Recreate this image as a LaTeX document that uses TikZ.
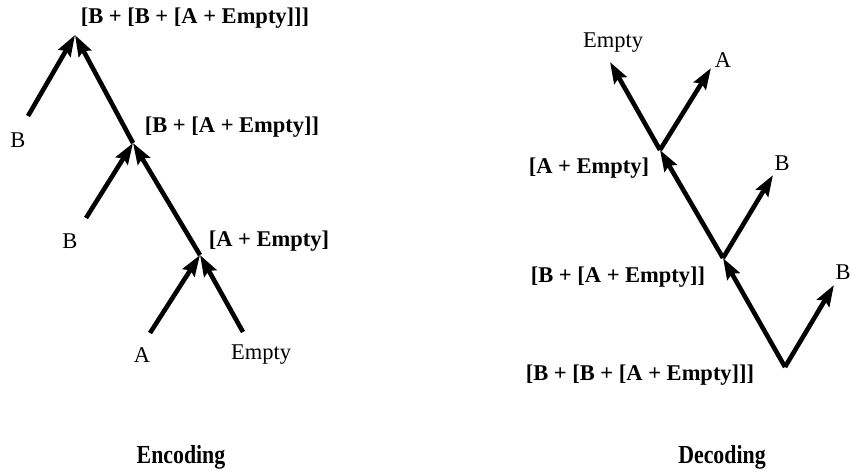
\documentclass[tikz,border=0pt]{standalone}
\usepackage{fontspec}
\setmainfont{Liberation Serif}
\usetikzlibrary{arrows.meta}
\begin{document}
\begin{tikzpicture}[x=1pt,y=-1pt,
  edge/.style={line width=4.6pt,-{Stealth[length=21pt,width=14pt,inset=3pt]}},
  blabel/.style={font=\fontsize{22.5}{24}\selectfont\bfseries,inner sep=0pt},
  rlabel/.style={font=\fontsize{22.5}{24}\selectfont,inner sep=0pt},
  title/.style={font=\fontsize{26}{28}\selectfont\bfseries,inner sep=0pt,xscale=0.84,anchor=base}]
\useasboundingbox (0,0) rectangle (852,471);
% ---------- Encoding ----------
\coordinate (e0) at (75,35);
\coordinate (e1) at (133,143);
\coordinate (e2) at (200,255);
\coordinate (eB1) at (28,116);
\coordinate (eB2) at (86,218);
\coordinate (eA) at (150,333);
\coordinate (eE) at (243,332);
\draw[edge] (eB1) -- (e0);
\draw[edge] (e1) -- (e0);
\draw[edge] (eB2) -- (e1);
\draw[edge] (e2) -- (e1);
\draw[edge] (eA) -- (e2);
\draw[edge] (eE) -- (e2);
\node[blabel] (et0) at (195,18) {[B + [B + [A + Empty]]]};
\node[blabel] (et1) at (232,127) {[B + [A + Empty]]};
\node[blabel] (et2) at (269,241) {[A + Empty]};
\node[rlabel] (eb1) at (18,140) {B};
\node[rlabel] (eb2) at (70,241) {B};
\node[rlabel] (ea) at (142,355) {A};
\node[rlabel] (ee) at (261,355) {Empty};
\node[title] (enc) at (181,463) {Encoding};
% ---------- Decoding ----------
\coordinate (d0) at (785,367);
\coordinate (d1) at (723,258);
\coordinate (d2) at (660,150);
\coordinate (dE) at (610,62);
\coordinate (dA) at (711,68);
\coordinate (dB1) at (773,175);
\coordinate (dB2) at (834,285);
\draw[edge] (d0) -- (d1);
\draw[edge] (d1) -- (d2);
\draw[edge] (d2) -- (dE);
\draw[edge] (d2) -- (dA);
\draw[edge] (d1) -- (dB1);
\draw[edge] (d0) -- (dB2);
\node[rlabel] (de) at (613,43) {Empty};
\node[rlabel] (da) at (723,60) {A};
\node[rlabel] (db1) at (782,163) {B};
\node[rlabel] (db2) at (843,272) {B};
\node[blabel] (dt2) at (589,168) {[A + Empty]};
\node[blabel] (dt1) at (618,277) {[B + [A + Empty]]};
\node[blabel] (dt0) at (640,375) {[B + [B + [A + Empty]]]};
\node[title] (dec) at (722,463) {Decoding};
\end{tikzpicture}
\end{document}
